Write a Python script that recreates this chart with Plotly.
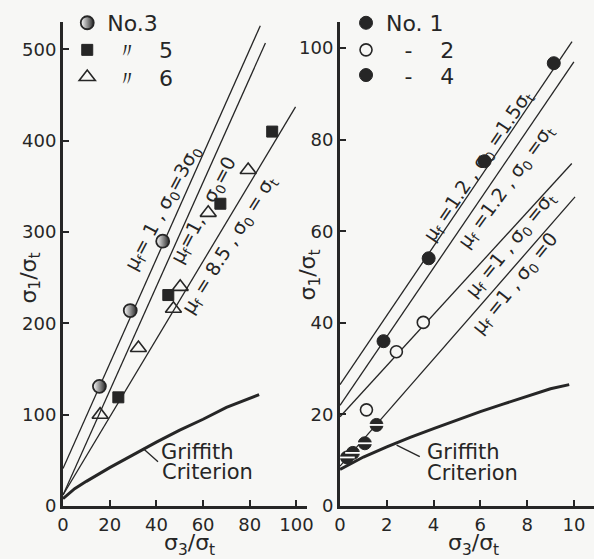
import plotly.graph_objects as go

# ---------------- data ----------------
# Left panel: sigma3/sigma_t (x) vs sigma1/sigma_t (y)
no3_x = [15.6, 28.8, 42.7]
no3_y = [131, 214, 290]
no5_x = [23.7, 45.1, 67.4, 89.6]
no5_y = [119, 231, 331, 410]
no6_x = [15.9, 32.3, 47.3, 50.2, 62.2, 79.3]
no6_y = [100, 173, 216, 240, 321, 368]

lineL1_x = [0, 84.5]     # mu_f=1, s0=3s0
lineL1_y = [41, 526]
lineL2_x = [0, 86.7]     # mu_f=1, s0=0
lineL2_y = [12, 507]
lineL3_x = [0, 99.6]     # mu_f=8.5, s0=st
lineL3_y = [12, 437]
griffL_x = [0, 5, 10, 20, 30, 40, 50, 60, 70, 84]
griffL_y = [8, 19, 27, 42, 56, 70, 83, 95, 108, 122]

# Right panel
no1_x = [1.86, 3.79, 6.18, 9.14]
no1_y = [36.0, 54.1, 75.3, 96.7]
no2_x = [1.13, 2.41, 3.56]
no2_y = [21.0, 33.7, 40.1]
no4_x = [0.3, 0.55, 1.06, 1.56]
no4_y = [10.6, 11.6, 13.7, 17.7]

lineRA_x = [0, 9.92]     # mu_f=1.2, s0=1.5st
lineRA_y = [26.5, 101.4]
lineRB_x = [0, 10.0]     # mu_f=1.2, s0=st
lineRB_y = [22, 97]
lineRC_x = [0, 9.91]     # mu_f=1, s0=st
lineRC_y = [19.5, 74.8]
lineRD_x = [0, 10.05]    # mu_f=1, s0=0
lineRD_y = [8.7, 67.5]
griffR_x = [0, 1, 2, 3, 4, 5, 6, 7, 8, 9, 9.8]
griffR_y = [8, 10.7, 12.9, 15, 16.9, 18.8, 20.6, 22.3, 24, 25.6, 26.5]

xticksL = [0, 20, 40, 60, 80, 100]
yticksL = [0, 100, 200, 300, 400, 500]
xticksR = [0, 2, 4, 6, 8, 10]
yticksR = [0, 20, 40, 60, 80, 100]

INK = "#262626"
BG = "#f7f7f5"
FONT = "DejaVu Sans"

fig = go.Figure()

def line(x, y, xa, ya, w=1.3):
    fig.add_trace(go.Scatter(x=x, y=y, mode="lines", xaxis=xa, yaxis=ya,
                             line=dict(color=INK, width=w), showlegend=False,
                             hoverinfo="skip"))

for lx, ly in [(lineL1_x, lineL1_y), (lineL2_x, lineL2_y), (lineL3_x, lineL3_y)]:
    line(lx, ly, "x", "y")
line(griffL_x, griffL_y, "x", "y", w=3)
for lx, ly in [(lineRA_x, lineRA_y), (lineRB_x, lineRB_y), (lineRC_x, lineRC_y), (lineRD_x, lineRD_y)]:
    line(lx, ly, "x2", "y2")
line(griffR_x, griffR_y, "x2", "y2", w=3)

DIT = "\u2009\u2009〃\u00a0\u00a0\u00a0"
DASH = "\u00a0\u00a0\u2009-\u00a0\u00a0\u00a0\u00a0"

# Left markers
fig.add_trace(go.Scatter(x=no3_x, y=no3_y, mode="markers", name="No.3", legend="legend",
                         marker=dict(symbol="circle", size=13, color="white",
                                     gradient=dict(type="horizontal", color=INK),
                                     line=dict(color=INK, width=1.8))))
fig.add_trace(go.Scatter(x=no5_x, y=no5_y, mode="markers", name=DIT + "5", legend="legend2",
                         marker=dict(symbol="square", size=11, color=INK,
                                     line=dict(color=INK, width=1))))
fig.add_trace(go.Scatter(x=no6_x, y=no6_y, mode="markers", name=DIT + "6", legend="legend3",
                         marker=dict(symbol="triangle-up-open", size=14, color=INK,
                                     line=dict(color=INK, width=1.6))))

# Right markers
fig.add_trace(go.Scatter(x=no1_x, y=no1_y, mode="markers", name="No. 1", xaxis="x2", yaxis="y2",
                         legend="legend4",
                         marker=dict(symbol="circle", size=13, color=INK,
                                     line=dict(color=INK, width=1))))
fig.add_trace(go.Scatter(x=no2_x, y=no2_y, mode="markers", name=DASH + "2",
                         xaxis="x2", yaxis="y2", legend="legend5",
                         marker=dict(symbol="circle", size=12, color=BG,
                                     line=dict(color=INK, width=1.6))))
fig.add_trace(go.Scatter(x=no4_x, y=no4_y, mode="markers", name=DASH + "4",
                         xaxis="x2", yaxis="y2", legend="legend6",
                         marker=dict(symbol="circle", size=13, color=INK,
                                     line=dict(color=INK, width=1))))
fig.add_trace(go.Scatter(x=no4_x, y=no4_y, mode="markers", showlegend=False,
                         xaxis="x2", yaxis="y2",
                         marker=dict(symbol="line-ew", size=11, color="white",
                                     line=dict(color="white", width=1.8))))

axis_common = dict(showline=True, linewidth=3, linecolor=INK, ticks="inside",
                   ticklen=6, tickwidth=1.5, tickcolor=INK, showgrid=False,
                   zeroline=False, tickfont=dict(size=18, family=FONT, color=INK))

def leg(x, y):
    return dict(x=x, y=y, xanchor="left", yanchor="middle", bgcolor="rgba(0,0,0,0)",
                font=dict(size=22, family=FONT, color=INK), itemsizing="trace")

fig.update_layout(
    width=594, height=559,
    margin=dict(l=63, r=0, t=22, b=53, autoexpand=False),
    paper_bgcolor=BG, plot_bgcolor=BG,
    font=dict(family=FONT, color=INK, size=18),
    xaxis=dict(domain=[0, 0.4595], range=[0, 104.5], tickvals=xticksL, anchor="y", **axis_common),
    yaxis=dict(range=[0, 530], tickvals=yticksL, anchor="x", **axis_common),
    xaxis2=dict(domain=[0.5217, 1], range=[0, 10.86], tickvals=xticksR, anchor="y2", **axis_common),
    yaxis2=dict(range=[0, 105.7], tickvals=yticksR, anchor="x2", **axis_common),
    legend=leg(0.008, 0.998),
    legend2=leg(0.008, 0.942),
    legend3=leg(0.008, 0.886),
    legend4=leg(0.533, 0.998),
    legend5=leg(0.533, 0.942),
    legend6=leg(0.533, 0.890),
    showlegend=True,
)

ann = []
def lab(x, y, t, ang, xr="x", yr="y", size=19):
    ann.append(dict(x=x, y=y, xref=xr, yref=yr, text=t, textangle=ang, showarrow=False,
                    xanchor="center", yanchor="middle",
                    font=dict(size=size, family=FONT, color=INK)))

mu = "μ<sub>f</sub>"
s0 = "σ<sub>0</sub>"
st = "σ<sub>t</sub>"
lab(42.8, 326, f"{mu}= 1 , {s0}=3{s0}", -62)
lab(60.3, 324, f"{mu}=1,\u00a0\u00a0\u00a0{s0}=0", -62)
lab(71.5, 286, f"{mu} = 8.5 , {s0} = {st}", -58)
lab(5.91, 74.1, f"{mu} =1.2 , {s0} =1.5{st}", -56, "x2", "y2")
lab(7.13, 69.7, f"{mu} =1.2 , {s0} ={st}", -54, "x2", "y2")
lab(7.27, 57.0, f"{mu} =1 , {s0} ={st}", -51, "x2", "y2")
lab(7.52, 48.5, f"{mu} =1 , {s0} =0", -51, "x2", "y2")

def txt(x, y, t, xr, yr, size=21):
    ann.append(dict(x=x, y=y, xref=xr, yref=yr, text=t, showarrow=False, xanchor="left",
                    yanchor="middle", font=dict(size=size, family=FONT, color=INK)))
txt(41, 58.6, "Griffith", "x", "y")
txt(41.5, 36.7, "Criterion", "x", "y")
txt(3.63, 11.8, "Griffith", "x2", "y2")
txt(3.63, 7.3, "Criterion", "x2", "y2")

# axis titles
ytitle = "σ<sub>1</sub>/σ<sub>t</sub>"
xtitle = "σ<sub>3</sub>/σ<sub>t</sub>"
for x, y, t, a in [(-0.062, 0.47, ytitle, -90), (0.465, 0.478, ytitle, -90),
                   (0.239, -0.079, xtitle, 0), (0.774, -0.079, xtitle, 0)]:
    ann.append(dict(x=x, y=y, xref="paper", yref="paper", text=t, textangle=a,
                    showarrow=False, xanchor="center", yanchor="middle",
                    font=dict(size=22, family=FONT, color=INK)))
fig.update_layout(annotations=ann)

# leader lines for the Griffith labels
fig.update_layout(shapes=[
    dict(type="line", xref="x", yref="y", x0=34.2, y0=63.2, x1=40.7, y1=48.5,
         line=dict(color=INK, width=1.3)),
    dict(type="line", xref="x2", yref="y2", x0=2.42, y0=13.3, x1=3.41, y1=10.8,
         line=dict(color=INK, width=1.3)),
])

fig.write_html("out.html", config={"displayModeBar": False},
               post_script="document.body.style.margin='0px';")
